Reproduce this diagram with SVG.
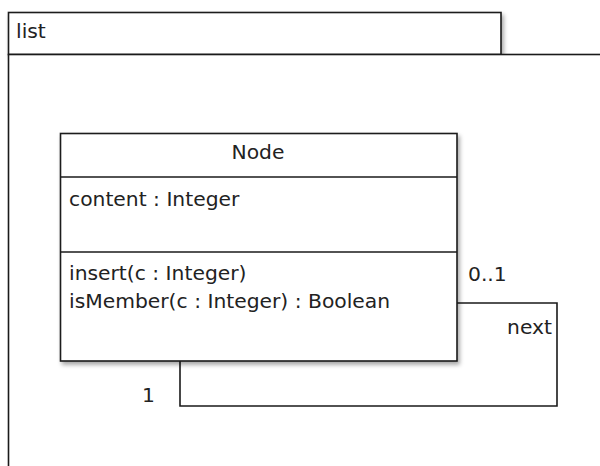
<svg xmlns="http://www.w3.org/2000/svg" width="600" height="466" viewBox="0 0 600 466">
  <style>
    .box { fill: #ffffff; stroke: #1a1a1a; stroke-width: 1.6; }
    .line { fill: none; stroke: #1a1a1a; stroke-width: 1.6; }
    .txt { font-family: "DejaVu Sans", "Liberation Sans", sans-serif; font-size: 20.3px; fill: #222222; }
  </style>
  <defs>
    <filter id="shadow" x="-10%" y="-10%" width="125%" height="125%">
      <feDropShadow dx="2" dy="3" stdDeviation="2" flood-color="#000000" flood-opacity="0.35"/>
    </filter>
  </defs>
  <rect width="600" height="466" fill="#ffffff"/>

  <g id="package-list">
    <rect class="box" x="8.5" y="12.5" width="492.5" height="42" filter="url(#shadow)"/>
    <rect class="box" x="8.5" y="54.5" width="620" height="440"/>
    <text class="txt" x="16" y="38">list</text>
  </g>

  <g id="connectors">
    <polyline class="line" points="457,303 557,303 557,406 180,406 180,361"/>
    <text class="txt" x="468" y="281">0..1</text>
    <text class="txt" x="552" y="334" text-anchor="end">next</text>
    <text class="txt" x="142" y="402">1</text>
  </g>

  <g id="node-Node">
    <rect class="box" x="60.5" y="133.5" width="396.5" height="227.5" filter="url(#shadow)"/>
    <line class="line" x1="60.5" y1="177" x2="457" y2="177"/>
    <line class="line" x1="60.5" y1="252" x2="457" y2="252"/>
    <text class="txt" x="258" y="159" text-anchor="middle">Node</text>
    <text class="txt" x="69" y="206">content : Integer</text>
    <text class="txt" x="69" y="280">insert(c : Integer)</text>
    <text class="txt" x="69" y="308">isMember(c : Integer) : Boolean</text>
  </g>
</svg>
